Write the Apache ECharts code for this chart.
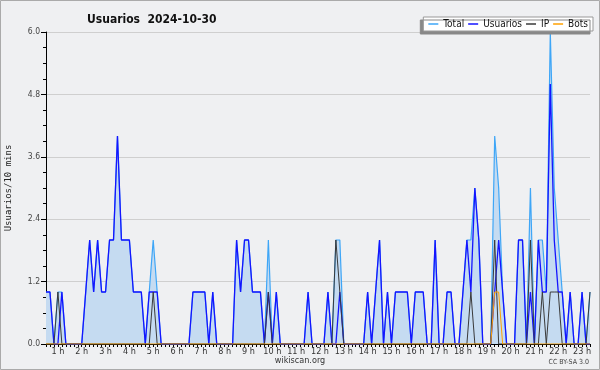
<!DOCTYPE html>
<html><head><meta charset="utf-8">
<script src="https://cdn.jsdelivr.net/npm/echarts@6/dist/echarts.min.js"></script>
<style>html,body{margin:0;padding:0;background:#eff0f2}#c{width:600px;height:370px}</style>
</head><body><div id="c"></div>
<script>
// 10-minute slots from 0:30 to 23:20
const slots = [];
for (let h = 0; h < 24; h++) for (let m = 0; m < 60; m += 10) {
  const t = h * 60 + m;
  if (t >= 30 && t <= 23 * 60 + 20) slots.push(h + ':' + (m < 10 ? '0' : '') + m);
}
const hourLabels = ['1 h','2 h','3 h','4 h','5 h','6 h','7 h','8 h','9 h','10 h','11 h','12 h','13 h','14 h','15 h','16 h','17 h','18 h','19 h','20 h','21 h','22 h','23 h'];

const total = [
 1,1,0,1,1,0,0,0,0,0, 1,2,1,2,1,1,2,2,4,2, 2,2,1,1,1,0,1,2,1,0,
 0,0,0,0,0,0,0,1,1,1, 1,0,1,0,0,0,0,0,2,1, 2,2,1,1,1,0,2,0,1,0,
 0,0,0,0,0,0,1,0,0,0, 0,1,0,2,2,0,0,0,0,0, 0,1,0,1,2,0,1,0,1,1,
 1,1,0,1,1,1,0,0,2,0, 0,1,1,0,0,1,2,2,3,2, 0,0,0,4,3,1,0,0,0,2,
 2,0,3,0,2,2,1,6,3,2, 1,0,1,0,0,1,0,1];
const usuarios = [
 1,1,0,0,1,0,0,0,0,0, 1,2,1,2,1,1,2,2,4,2, 2,2,1,1,1,0,1,1,1,0,
 0,0,0,0,0,0,0,1,1,1, 1,0,1,0,0,0,0,0,2,1, 2,2,1,1,1,0,1,0,1,0,
 0,0,0,0,0,0,1,0,0,0, 0,1,0,0,1,0,0,0,0,0, 0,1,0,1,2,0,1,0,1,1,
 1,1,0,1,1,1,0,0,2,0, 0,1,1,0,0,1,2,1,3,2, 0,0,0,1,2,1,0,0,0,2,
 2,0,1,0,2,1,1,5,2,1, 1,0,1,0,0,1,0,0];
const ip = [
 0,0,0,1,0,0,0,0,0,0, 0,0,0,0,0,0,0,0,0,0, 0,0,0,0,0,0,0,1,0,0,
 0,0,0,0,0,0,0,0,0,0, 0,0,0,0,0,0,0,0,0,0, 0,0,0,0,0,0,1,0,0,0,
 0,0,0,0,0,0,0,0,0,0, 0,0,0,2,1,0,0,0,0,0, 0,0,0,0,0,0,0,0,0,0,
 0,0,0,0,0,0,0,0,0,0, 0,0,0,0,0,0,0,1,0,0, 0,0,0,2,0,0,0,0,0,0,
 0,0,2,0,0,1,0,1,1,1, 0,0,0,0,0,0,0,1];
const bots = [
 0,0,0,0,0,0,0,0,0,0, 0,0,0,0,0,0,0,0,0,0, 0,0,0,0,0,0,0,0,0,0,
 0,0,0,0,0,0,0,0,0,0, 0,0,0,0,0,0,0,0,0,0, 0,0,0,0,0,0,0,0,0,0,
 0,0,0,0,0,0,0,0,0,0, 0,0,0,0,0,0,0,0,0,0, 0,0,0,0,0,0,0,0,0,0,
 0,0,0,0,0,0,0,0,0,0, 0,0,0,0,0,0,0,0,0,0, 0,0,0,1,1,0,0,0,0,0,
 0,0,0,0,0,0,0,0,0,0, 0,0,0,0,0,0,0,0];

const F = "'DejaVu Sans Condensed','DejaVu Sans',sans-serif";
const chart = echarts.init(document.getElementById('c'), null, {renderer: 'canvas'});
chart.setOption({
  animation: false,
  backgroundColor: '#eff0f2',
  title: {
    text: 'Usuarios  2024-10-30', left: 82, top: 9,
    textStyle: {fontFamily: F, fontSize: 12, fontWeight: 'bold', color: '#111'}
  },
  legend: {
    top: 17, right: 7, itemWidth: 10, itemHeight: 1.5, itemGap: 4, icon: 'rect',
    padding: [2, 5, 2, 5], backgroundColor: '#fff', borderColor: '#999', borderWidth: 1,
    shadowColor: '#888', shadowOffsetX: -3, shadowOffsetY: 3, shadowBlur: 0,
    textStyle: {fontFamily: F, fontSize: 10, color: '#111', lineHeight: 10},
    data: ['Total', 'Usuarios', 'IP', 'Bots']
  },
  grid: {left: 46, right: 10, top: 32, bottom: 26, containLabel: false, outerBoundsMode: 'none'},
  xAxis: {
    type: 'category', data: slots, boundaryGap: false,
    axisLine: {lineStyle: {color: '#000', width: 1}},
    axisTick: {show: true, interval: 0, length: 3, lineStyle: {color: '#000'}},
    axisLabel: {
      interval: (i) => i % 6 === 3,
      formatter: (v, i) => hourLabels[(i - 3) / 6],
      fontFamily: F, fontSize: 9, color: '#333', margin: 3
    },
    splitLine: {show: false}
  },
  yAxis: {
    type: 'value', min: 0, max: 6, interval: 1.2,
    name: 'Usuarios/10 mins', nameLocation: 'middle', nameGap: 33, nameRotate: 90,
    nameTextStyle: {fontFamily: "'DejaVu Sans Mono',monospace", fontSize: 9, color: '#222'},
    axisLine: {show: true, lineStyle: {color: '#000', width: 1}},
    axisTick: {show: true, length: 5, lineStyle: {color: '#000'}},
    minorTick: {show: true, splitNumber: 4, length: 3, lineStyle: {color: '#000'}},
    axisLabel: {formatter: (v) => v.toFixed(1), fontFamily: F, fontSize: 8.5, color: '#444', margin: 6},
    splitLine: {lineStyle: {color: '#cfcfcf', width: 1}}
  },
  series: [
    {name: 'Total', type: 'line', data: total, symbol: 'none', color: '#3ea6f7',
     lineStyle: {color: '#3ea6f7', width: 1.2}, areaStyle: {color: '#c5dbf1', opacity: 1}, z: 2},
    {name: 'Usuarios', type: 'line', data: usuarios, symbol: 'none', color: '#1414ff',
     lineStyle: {color: '#1414ff', width: 1.3}, z: 3},
    {name: 'IP', type: 'line', data: ip, symbol: 'none', color: '#3a3a3a',
     lineStyle: {color: '#3a3a3a', width: 1}, z: 4},
    {name: 'Bots', type: 'line', data: bots, symbol: 'none', color: '#ffa000',
     lineStyle: {color: '#ffa000', width: 1}, z: 5}
  ],
  graphic: [
    {type: 'rect', shape: {x: 0.5, y: 0.5, width: 599, height: 369}, style: {fill: 'none', stroke: '#aaa', lineWidth: 1}, z: 100},
    {type: 'text', x: 300, y: 361, style: {text: 'wikiscan.org', fontFamily: F, fontSize: 9, fill: '#333', textAlign: 'center', textVerticalAlign: 'middle'}},
    {type: 'text', x: 589, y: 362, style: {text: 'CC BY-SA 3.0', fontFamily: F, fontSize: 7, fill: '#444', textAlign: 'right', textVerticalAlign: 'middle'}}
  ]
});
</script></body></html>
